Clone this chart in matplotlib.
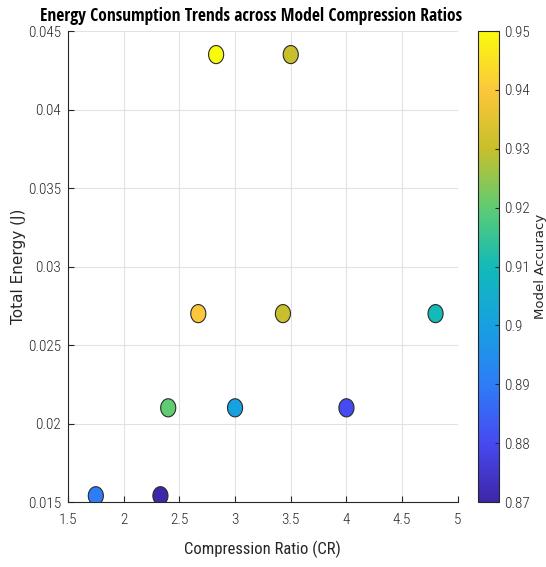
import numpy as np
import matplotlib
matplotlib.use('Agg')
import matplotlib.pyplot as plt
from matplotlib.colors import LinearSegmentedColormap
from matplotlib.path import Path

# data
compression_ratio = [2.83, 3.50, 2.67, 3.43, 4.80, 2.40, 3.00, 4.00, 1.75, 2.33]
total_energy      = [0.0435, 0.0435, 0.027, 0.027, 0.027, 0.021, 0.021, 0.021, 0.0154, 0.0154]
model_accuracy    = [0.95, 0.93, 0.94, 0.93, 0.91, 0.92, 0.90, 0.88, 0.89, 0.87]

x_ticks = [1.5, 2, 2.5, 3, 3.5, 4, 4.5, 5]
y_ticks = [0.015, 0.02, 0.025, 0.03, 0.035, 0.04, 0.045]
cb_ticks = [0.87, 0.88, 0.89, 0.90, 0.91, 0.92, 0.93, 0.94, 0.95]

# parula-like colormap
parula = LinearSegmentedColormap.from_list('parula', [
    (0.000, (0.242, 0.150, 0.660)),
    (0.125, (0.275, 0.290, 0.945)),
    (0.250, (0.180, 0.490, 0.967)),
    (0.375, (0.090, 0.630, 0.880)),
    (0.500, (0.070, 0.730, 0.720)),
    (0.625, (0.370, 0.800, 0.450)),
    (0.750, (0.780, 0.750, 0.170)),
    (0.875, (0.990, 0.780, 0.230)),
    (1.000, (0.976, 0.983, 0.054)),
])

TITLE_FONT = ['Open Sans Condensed', 'Roboto Condensed', 'DejaVu Sans']
COND = ['Roboto Condensed', 'DejaVu Sans']
WIDE = ['DejaVu Sans']

# slightly tall ellipse marker
t = np.linspace(0, 2 * np.pi, 60)
ellipse = Path(np.column_stack([np.cos(t), 1.2 * np.sin(t)]), closed=True)

fig = plt.figure(figsize=(5.46, 5.67), dpi=100)
ax = fig.add_axes([0.1245, 0.1146, 0.714, 0.8307])
cax = fig.add_axes([0.8755, 0.1146, 0.0385, 0.8307])

sc = ax.scatter(compression_ratio, total_energy, c=model_accuracy, cmap=parula,
                vmin=0.87, vmax=0.95, s=170, marker=ellipse,
                edgecolors='#2a2a2a', linewidths=0.8, zorder=3)

ax.set_xlim(1.5, 5)
ax.set_ylim(0.015, 0.045)
ax.set_xticks(x_ticks)
ax.set_xticklabels(['1.5', '2', '2.5', '3', '3.5', '4', '4.5', '5'])
ax.set_yticks(y_ticks)
ax.set_yticklabels(['0.015', '0.02', '0.025', '0.03', '0.035', '0.04', '0.045'])
ax.grid(True, color='#e2e2e2', lw=0.8, zorder=0)
ax.set_axisbelow(True)
for s in ['top', 'right']:
    ax.spines[s].set_visible(False)
for s in ['left', 'bottom']:
    ax.spines[s].set_color('#262626')
    ax.spines[s].set_linewidth(0.8)
ax.tick_params(direction='in', length=4, width=0.8, colors='#262626',
               labelsize=11, pad=5)
ax.tick_params(axis='x', pad=8)
for lab in ax.get_xticklabels() + ax.get_yticklabels():
    lab.set_family(COND)
    lab.set_fontweight('light')

ax.set_title('Energy Consumption Trends across Model Compression Ratios',
             family=TITLE_FONT, fontsize=12.5, fontweight='bold', pad=7,
             x=0.47)
ax.set_xlabel('Compression Ratio (CR)', family=COND, fontsize=12,
              color='#262626', labelpad=10)
ax.set_ylabel('Total Energy (J)', family=WIDE, fontsize=11,
              color='#262626', va='center')
ax.yaxis.set_label_coords(-0.128, 0.5)

cb = fig.colorbar(sc, cax=cax)
cb.set_ticks(cb_ticks)
cb.set_ticklabels(['0.87', '0.88', '0.89', '0.9', '0.91', '0.92', '0.93', '0.94', '0.95'])
cb.ax.tick_params(direction='in', length=3, width=0.8, labelsize=11,
                  colors='#262626', pad=4)
for lab in cb.ax.get_yticklabels():
    lab.set_family(COND)
    lab.set_fontweight('light')
cb.outline.set_edgecolor('#262626')
cb.outline.set_linewidth(0.8)
cb.set_label('Model Accuracy', family=WIDE, fontsize=9.5, color='#262626',
             va='center')
cb.ax.yaxis.set_label_coords(2.95, 0.5)

fig.savefig('out.png', dpi=100)
